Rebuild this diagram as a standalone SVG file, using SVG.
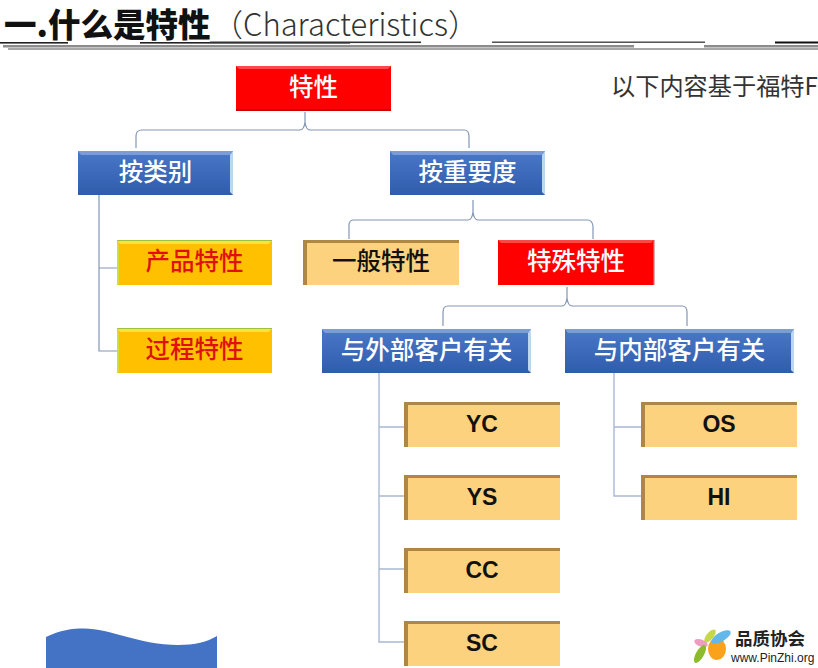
<svg xmlns="http://www.w3.org/2000/svg" width="818" height="668" viewBox="0 0 818 668">
<style>
text{font-family:"Noto Sans CJK SC","Noto Sans",sans-serif}
.l{font-size:24.500px;text-anchor:middle;font-weight:500}
.w{fill:#fff}.k{fill:#111}.r{fill:#e01010}
.e{font-family:"Liberation Sans",Arial,sans-serif;font-weight:700;font-size:23px;text-anchor:middle}
.c{fill:none;stroke:#8496b4;stroke-width:1.2}
.c2{fill:none;stroke:#a9b8d2;stroke-width:1.4}
.red{fill:#fe0000}.blue{fill:url(#gb)}.gold{fill:#ffc000}.tan{fill:#fdd27e}
.hi{fill:#fff;opacity:.28}.lo{fill:#000;opacity:.18}.sh{fill:#7a5a20;opacity:.62}
.ed{fill:#bcd8f0}
</style>
<defs>
<linearGradient id="gb" x1="0" y1="0" x2="0" y2="1"><stop offset="0" stop-color="#4a78c8"/><stop offset="1" stop-color="#2f5cab"/></linearGradient>
</defs>
<rect width="818" height="668" fill="#fff"/>
<g id="title">
<rect x="8" y="48" width="810" height="2" fill="#a8a8a8"/>
<rect x="3" y="45" width="631" height="2.500" fill="#8c8c8c"/>
<rect x="704" y="45" width="114" height="2.500" fill="#8c8c8c"/>
<rect x="0" y="42" width="68" height="1.600" fill="#222"/>
<rect x="140" y="42" width="210" height="1.600" fill="#222"/>
<rect x="210" y="41.500" width="211" height="1.600" fill="#333"/>
<rect x="492" y="41.500" width="213" height="1.400" fill="#444"/>
<rect x="775" y="41.500" width="43" height="2" fill="#111"/>
<text x="4" y="37" font-size="32.500" font-weight="900" fill="#111">一.什么是特性</text>
<text x="212" y="36" font-size="31" font-weight="300" fill="#333">（Characteristics）</text>
</g>
<text x="611" y="95" font-size="24.200" font-weight="400" fill="#333">以下内容基于福特F</text>
<g id="connectors">
<path class="c" d="M136 148V136Q136 130 142 130H300Q304 130 305 122Q306 130 310 130H464Q469 130 469 136V148M305 122V112"/>
<path class="c" d="M349 239V225Q349 220 354 220H468Q472 220 473 212Q474 220 478 220H588Q592 220 593 226V239M473 212V200"/>
<path class="c" d="M443 326V312Q443 306 448 306H562Q566 306 567 298Q568 306 572 306H682Q687 306 687 312V326M567 298V287"/>
<path class="c" d="M99 195V351H117M99 268H117"/>
<path class="c2" d="M379 373V642H404M379 427H404M379 496H404M379 569H404"/>
<path class="c2" d="M614 373V496H641M614 427H641"/>
</g>
<g id="n-tx">
<rect class="red" x="236" y="66" width="155" height="45"/><path class="hi" d="M236 66H391L388 69H239Z"/><path class="lo" d="M236 109H391V111H236Z"/>
<text class="l w" x="313.500" y="96">特性</text>
</g>
<g id="n-lb">
<rect class="blue" x="78" y="151" width="155" height="44"/><path class="hi" d="M78 151H233L230 155H81Z"/><path class="ed" d="M230 155L233 151V195L230 192Z"/>
<text class="l w" x="155.500" y="181">按类别</text>
</g>
<g id="n-zy">
<rect class="blue" x="390" y="151" width="155" height="44"/><path class="hi" d="M390 151H545L542 155H393Z"/><path class="ed" d="M542 155L545 151V195L542 192Z"/>
<text class="l w" x="467.500" y="181">按重要度</text>
</g>
<g id="n-cp">
<rect class="gold" x="117" y="240" width="155" height="45"/><path fill="#ffe040" d="M117 240H272L269 244H120Z"/><path fill="#9bc43a" d="M117 240H272V241H117Z"/><path fill="#d8dc30" d="M117 240L119 244V285H117Z"/>
<text class="l r" x="194.500" y="270">产品特性</text>
</g>
<g id="n-gc">
<rect class="gold" x="117" y="328" width="155" height="45"/><path fill="#ffe040" d="M117 328H272L269 332H120Z"/><path fill="#9bc43a" d="M117 328H272V329H117Z"/><path fill="#d8dc30" d="M117 328L119 332V373H117Z"/>
<text class="l r" x="194.500" y="358">过程特性</text>
</g>
<g id="n-yb">
<rect class="tan" x="303" y="240" width="156" height="45"/><path class="sh" d="M303 240H459V243H307V285H303Z"/>
<text class="l k" x="381" y="270">一般特性</text>
</g>
<g id="n-ts">
<rect class="red" x="498" y="240" width="156" height="45"/><path class="hi" d="M498 240H654L651 243H501Z"/><path fill="#b06060" d="M653 240H654.500V285H653Z"/>
<text class="l w" x="576" y="270">特殊特性</text>
</g>
<g id="n-wb">
<rect class="blue" x="322" y="329" width="209" height="44"/><path class="hi" d="M322 329H531L528 333H325Z"/><path class="ed" d="M528 333L531 329V373L528 370Z"/>
<text class="l w" x="426.500" y="359">与外部客户有关</text>
</g>
<g id="n-nb">
<rect class="blue" x="565" y="329" width="229" height="44"/><path class="hi" d="M565 329H794L791 333H568Z"/><path class="ed" d="M791 333L794 329V373L791 370Z"/>
<text class="l w" x="679.500" y="359">与内部客户有关</text>
</g>
<g id="n-yc">
<rect class="tan" x="404" y="402" width="156" height="45"/><path class="sh" d="M404 402H560V405H408V447H404Z"/>
<text class="e k" x="482" y="432">YC</text>
</g>
<g id="n-ys">
<rect class="tan" x="404" y="475" width="156" height="45"/><path class="sh" d="M404 475H560V478H408V520H404Z"/>
<text class="e k" x="482" y="505">YS</text>
</g>
<g id="n-cc">
<rect class="tan" x="404" y="548" width="156" height="45"/><path class="sh" d="M404 548H560V551H408V593H404Z"/>
<text class="e k" x="482" y="578">CC</text>
</g>
<g id="n-sc">
<rect class="tan" x="404" y="621" width="156" height="45"/><path class="sh" d="M404 621H560V624H408V666H404Z"/>
<text class="e k" x="482" y="651">SC</text>
</g>
<g id="n-os">
<rect class="tan" x="641" y="402" width="156" height="45"/><path class="sh" d="M641 402H797V405H645V447H641Z"/>
<text class="e k" x="719" y="432">OS</text>
</g>
<g id="n-hi">
<rect class="tan" x="641" y="475" width="156" height="45"/><path class="sh" d="M641 475H797V478H645V520H641Z"/>
<text class="e k" x="719" y="505">HI</text>
</g>
<path id="wave" d="M46 637C60 630 72 628.500 84 628.500C110 628.500 140 645 178 645C195 645 207 642 217 636V668H46Z" fill="#4472c4"/>
<g id="logo">
<ellipse cx="717" cy="649" rx="9" ry="11" fill="#fba21c"/>
<ellipse cx="721" cy="637" rx="11" ry="4.500" fill="#62b8e8" transform="rotate(-30 721 637)"/>
<ellipse cx="710" cy="636" rx="8" ry="3.500" fill="#c6d84a" transform="rotate(-50 710 636)"/>
<ellipse cx="701" cy="643" rx="7" ry="3.500" fill="#ee9cc0" transform="rotate(20 701 643)"/>
<ellipse cx="700" cy="654" rx="10" ry="4" fill="#8cbc2c" transform="rotate(-60 700 654)"/>
<text x="735" y="645" font-size="17.500" font-weight="700" fill="#222">品质协会</text>
<text x="731" y="661.500" font-size="12" fill="#222" style="font-family:'Liberation Sans',Arial,sans-serif">www.PinZhi.org</text>
</g>
</svg>
